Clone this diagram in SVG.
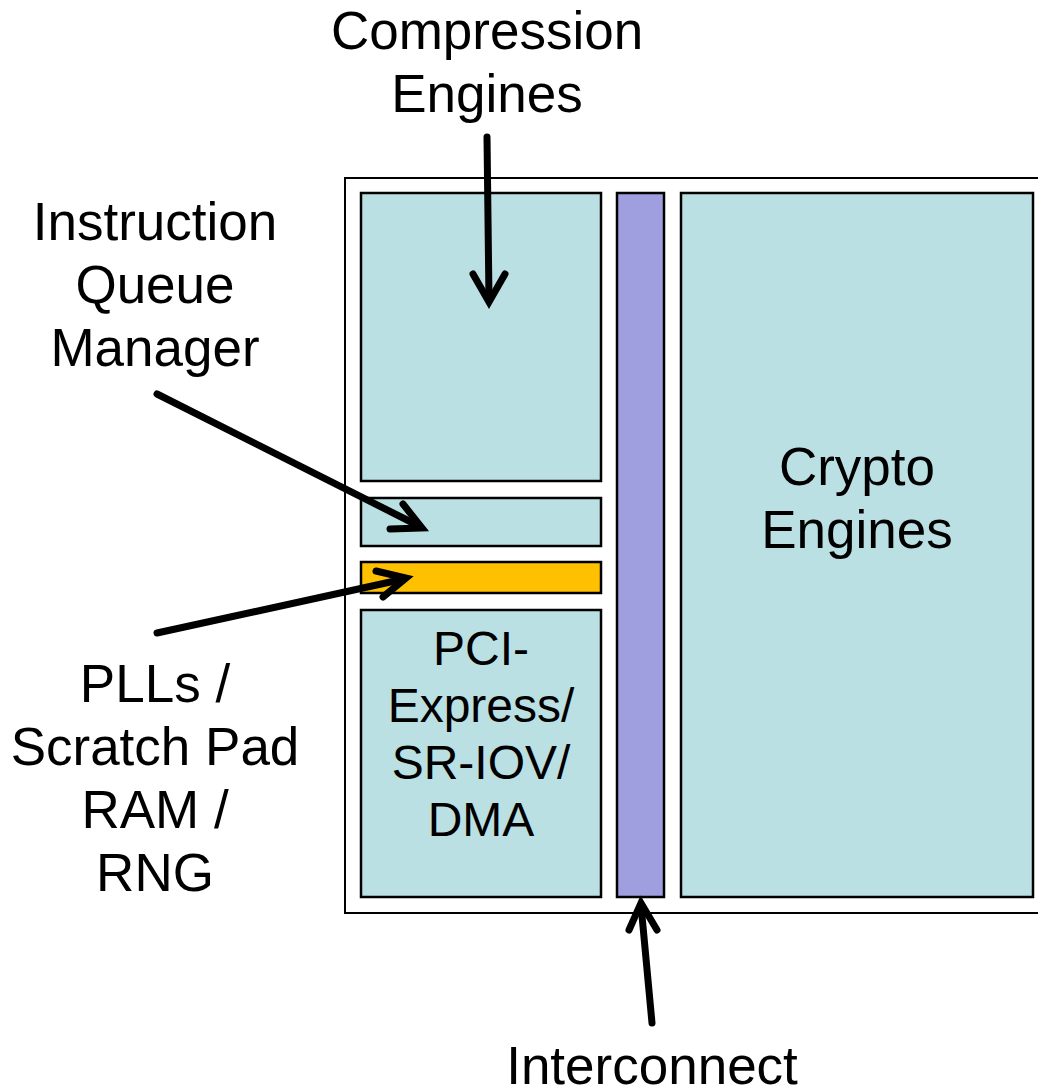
<svg xmlns="http://www.w3.org/2000/svg" width="1038" height="1091" viewBox="0 0 1038 1091">
<style>
.blk{fill:#BAE0E3;stroke:#000;stroke-width:2.5}
.t{font-family:"Liberation Sans",Arial,sans-serif;font-size:53px;fill:#000;text-anchor:middle}
.ts{font-size:48px}
.arr{fill:none;stroke:#000;stroke-width:7;stroke-linecap:round;stroke-linejoin:miter}
</style>
<rect width="1038" height="1091" fill="#fff"/>
<g id="chip">
<rect x="345" y="178" width="700" height="735" fill="#fff" stroke="#000" stroke-width="2"/>
</g>
<g id="compression">
<rect class="blk" x="361" y="193" width="240" height="288"/>
</g>
<g id="iqm">
<rect class="blk" x="361" y="498" width="240" height="48"/>
</g>
<g id="pll">
<rect x="361" y="562" width="240" height="31" fill="#FFC000" stroke="#000" stroke-width="2.5"/>
</g>
<g id="pcie">
<rect class="blk" x="361" y="610" width="240" height="287"/>
<text class="t ts" x="481" y="665">PCI-</text>
<text class="t ts" x="481" y="722">Express/</text>
<text class="t ts" x="481" y="779">SR-IOV/</text>
<text class="t ts" x="481" y="836">DMA</text>
</g>
<g id="interconnect">
<rect x="617" y="193" width="47" height="704" fill="#9F9FDF" stroke="#000" stroke-width="2.5"/>
</g>
<g id="crypto">
<rect class="blk" x="681" y="193" width="352" height="704"/>
<text class="t" x="857" y="485">Crypto</text>
<text class="t" x="857" y="548">Engines</text>
</g>
<g id="labels">
<text class="t" x="487" y="49">Compression</text>
<text class="t" x="487" y="112">Engines</text>
<text class="t" x="155" y="240">Instruction</text>
<text class="t" x="155" y="303">Queue</text>
<text class="t" x="155" y="366">Manager</text>
<text class="t" x="155" y="702">PLLs /</text>
<text class="t" x="155" y="765">Scratch Pad</text>
<text class="t" x="155" y="828">RAM /</text>
<text class="t" x="155" y="891">RNG</text>
<text class="t" x="652" y="1084">Interconnect</text>
</g>
<g id="connectors">
<line class="arr" x1="487" y1="137" x2="489" y2="300"/>
<polyline class="arr" points="473,274 489,302 505,274"/>
<line class="arr" x1="157" y1="394" x2="419" y2="526"/>
<polyline class="arr" points="403,504 422,528 390,529"/>
<line class="arr" x1="157" y1="633" x2="404" y2="579"/>
<polyline class="arr" points="376,571 406,578 383,597"/>
<line class="arr" x1="652" y1="1023" x2="641" y2="905"/>
<polyline class="arr" points="629,930 641,903 657,930"/>
</g>
</svg>
